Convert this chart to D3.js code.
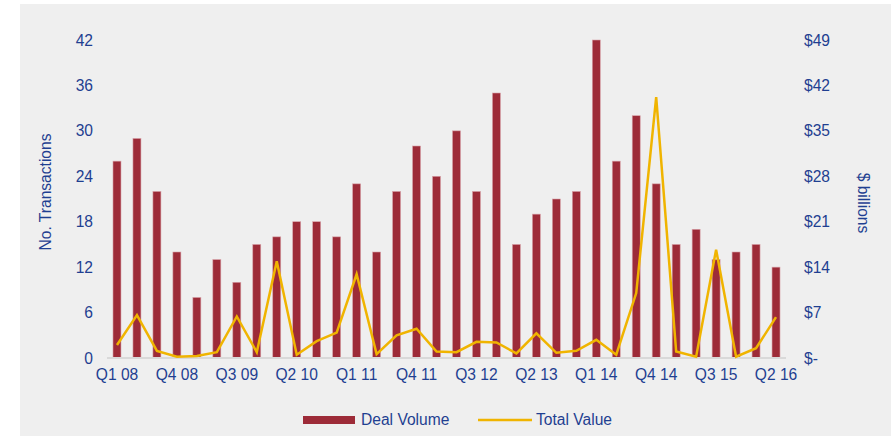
<!DOCTYPE html>
<html>
<head>
<meta charset="utf-8">
<script src="https://cdn.jsdelivr.net/npm/d3@7"></script>
<style>
  html, body { margin: 0; padding: 0; background: #ffffff; }
  svg { display: block; }
  text { font-family: "Liberation Sans", Arial, sans-serif; }
</style>
</head>
<body>
<div id="chart"></div>
<script>
const quarters = [
    "Q1 08", "Q2 08", "Q3 08", "Q4 08",
    "Q1 09", "Q2 09", "Q3 09", "Q4 09",
    "Q1 10", "Q2 10", "Q3 10", "Q4 10",
    "Q1 11", "Q2 11", "Q3 11", "Q4 11",
    "Q1 12", "Q2 12", "Q3 12", "Q4 12",
    "Q1 13", "Q2 13", "Q3 13", "Q4 13",
    "Q1 14", "Q2 14", "Q3 14", "Q4 14",
    "Q1 15", "Q2 15", "Q3 15", "Q4 15",
    "Q1 16", "Q2 16"
];

const dealVolume = [
    26, 29, 22, 14, 8, 13, 10, 15, 16, 18, 18, 16,
    23, 14, 22, 28, 24, 30, 22, 35, 15, 19, 21, 22,
    42, 26, 32, 23, 15, 17, 13, 14, 15, 12
];

const totalValue = [
    2.0, 6.6, 1.1, 0.2, 0.3, 0.9, 6.4, 0.9, 14.9, 0.5, 2.6, 3.9,
    12.9, 0.6, 3.5, 4.5, 1.0, 0.9, 2.5, 2.4, 0.7, 3.8, 0.8, 1.1,
    2.8, 0.5, 10.0, 40.2, 1.0, 0.2, 16.7, 0.2, 1.5, 6.3
];

const leftTicks = [0, 6, 12, 18, 24, 30, 36, 42];
const rightTicks = [0, 7, 14, 21, 28, 35, 42, 49];

const colors = {
    bar: "#9d2b38",
    barEdge: "#d8a3a9",
    line: "#f0b400",
    text: "#1f3f91",
    axis: "#d9d9d9",
    panel: "#efefef"
};

const width = 893;
const height = 436;
const margin = { top: 40, right: 107, bottom: 78, left: 107 };

const svg = d3.select("#chart")
    .append("svg")
    .attr("width", width)
    .attr("height", height);

svg.append("rect")
    .attr("x", 20)
    .attr("y", 4)
    .attr("width", 871)
    .attr("height", height - 4)
    .attr("fill", colors.panel);

const x = d3.scaleBand()
    .domain(quarters)
    .range([margin.left, width - margin.right])
    .paddingInner(0.6)
    .paddingOuter(0.3);

const yLeft = d3.scaleLinear()
    .domain([0, 42])
    .range([height - margin.bottom, margin.top]);

const yRight = d3.scaleLinear()
    .domain([0, 49])
    .range([height - margin.bottom, margin.top]);

// bars
svg.append("g")
    .selectAll("rect")
    .data(dealVolume)
    .enter()
    .append("rect")
    .attr("x", (d, i) => x(quarters[i]))
    .attr("y", d => yLeft(d))
    .attr("width", x.bandwidth())
    .attr("height", d => yLeft(0) - yLeft(d))
    .attr("fill", colors.bar)
    .attr("stroke", colors.barEdge)
    .attr("stroke-width", 0.6);

// x axis
const xAxis = svg.append("g")
    .attr("transform", `translate(0, ${height - margin.bottom})`)
    .call(d3.axisBottom(x)
        .tickValues(quarters.filter((q, i) => i % 3 === 0))
        .tickSize(0)
        .tickPadding(11));
xAxis.select(".domain")
    .attr("stroke", colors.axis)
    .attr("stroke-width", 2)
    .attr("d", `M${margin.left},0H${width - margin.right}`);
xAxis.selectAll("text")
    .style("font-size", "15.6px")
    .attr("fill", colors.text);

// left axis
const leftAxis = svg.append("g")
    .attr("transform", `translate(${margin.left}, 0)`)
    .call(d3.axisLeft(yLeft).tickValues(leftTicks).tickSize(0).tickPadding(14));
leftAxis.select(".domain").remove();
leftAxis.selectAll("text")
    .style("font-size", "15.6px")
    .attr("fill", colors.text);

// right axis
const rightAxis = svg.append("g")
    .attr("transform", `translate(${width - margin.right}, 0)`)
    .call(d3.axisRight(yRight)
        .tickValues(rightTicks)
        .tickSize(0)
        .tickPadding(18)
        .tickFormat(d => d === 0 ? "$-" : `$${d}`));
rightAxis.select(".domain").remove();
rightAxis.selectAll("text")
    .style("font-size", "15.6px")
    .attr("fill", colors.text);

// line
const line = d3.line()
    .x((d, i) => x(quarters[i]) + x.bandwidth() / 2)
    .y(d => yRight(d));

svg.append("path")
    .datum(totalValue)
    .attr("d", line)
    .attr("fill", "none")
    .attr("stroke", colors.line)
    .attr("stroke-width", 2.5)
    .attr("stroke-linejoin", "miter");

// axis titles
svg.append("text")
    .attr("transform", "translate(51, 192) rotate(-90)")
    .attr("text-anchor", "middle")
    .style("font-size", "15.6px")
    .attr("fill", colors.text)
    .text("No. Transactions");

svg.append("text")
    .attr("transform", "translate(858, 203) rotate(90)")
    .attr("text-anchor", "middle")
    .style("font-size", "15.6px")
    .attr("fill", colors.text)
    .text("$ billions");

// legend
const legend = svg.append("g");
legend.append("rect")
    .attr("x", 303)
    .attr("y", 416)
    .attr("width", 52)
    .attr("height", 8)
    .attr("fill", colors.bar);
legend.append("text")
    .attr("x", 361)
    .attr("y", 425)
    .style("font-size", "15.6px")
    .attr("fill", colors.text)
    .text("Deal Volume");
legend.append("line")
    .attr("x1", 478)
    .attr("x2", 532)
    .attr("y1", 420)
    .attr("y2", 420)
    .attr("stroke", colors.line)
    .attr("stroke-width", 2.5);
legend.append("text")
    .attr("x", 536)
    .attr("y", 425)
    .style("font-size", "15.6px")
    .attr("fill", colors.text)
    .text("Total Value");
</script>
</body>
</html>
